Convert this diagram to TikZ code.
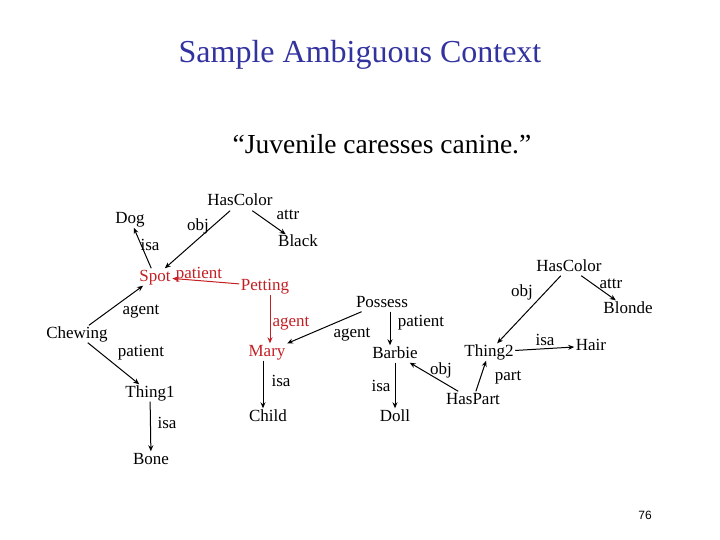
\documentclass[tikz,border=0pt]{standalone}
\usepackage{fontspec}
\setmainfont{Liberation Serif}
\newfontfamily\pagenumfont{Liberation Sans}
\usetikzlibrary{arrows.meta}
\definecolor{titleblue}{RGB}{51,51,160}
\definecolor{semred}{RGB}{195,30,35}
\tikzset{
  concept/.style={inner sep=1.5pt, text height=11pt, text depth=3pt, font=\fontsize{17}{19}\selectfont},
  rel/.style={inner sep=0pt, text height=11pt, text depth=3pt, font=\fontsize{17}{19}\selectfont},
  link/.style={line width=1pt, -{Stealth[length=6pt,width=5pt]}},
  redlink/.style={link, draw=semred},
}
\begin{document}
\begin{tikzpicture}[x=1pt,y=-1pt]
\useasboundingbox (0,0) rectangle (720,540);
% titles
\node (title) at (360,55) {\fontsize{32}{36}\selectfont\color{titleblue}Sample Ambiguous Context};
\node (sub) at (382,144) {\fontsize{27.5}{32}\selectfont “Juvenile caresses canine.”};
% left network nodes
\node[concept] (hc1) at (240,202) {HasColor};
\node[concept] (dog) at (130,219) {Dog};
\node[concept] (black) at (298,243) {Black};
\node[concept, text=semred] (spot) at (155,277) {Spot};
\node[concept, text=semred] (pet) at (265,286) {Petting};
\node[concept] (chew) at (77,334) {Chewing};
\node[concept, text=semred] (mary) at (267,352) {Mary};
\node[concept] (child) at (268,417) {Child};
\node[concept] (th1) at (150,393) {Thing1};
\node[concept] (bone) at (151,460) {Bone};
% right network nodes
\node[concept] (poss) at (382,303) {Possess};
\node[concept] (barbie) at (395,354) {Barbie};
\node[concept] (doll) at (395,417) {Doll};
\node[concept] (haspart) at (473,400) {HasPart};
\node[concept] (th2) at (489,352) {Thing2};
\node[concept] (hc2) at (569,267) {HasColor};
\node[concept] (blonde) at (628,309) {Blonde};
\node[concept] (hair) at (591,346) {Hair};
% relation labels
\node[rel] (l1) at (198,226) {obj};
\node[rel] (l2) at (288,216) {attr};
\node[rel] (l3) at (150,246) {isa};
\node[rel, text=semred] (l4) at (199,274) {patient};
\node[rel] (l5) at (141,310) {agent};
\node[rel] (l6) at (141,352) {patient};
\node[rel, text=semred] (l7) at (291,322) {agent};
\node[rel] (l8) at (281,382) {isa};
\node[rel] (l9) at (167,424) {isa};
\node[rel] (l10) at (421,322) {patient};
\node[rel] (l11) at (352,333) {agent};
\node[rel] (l12) at (381,387) {isa};
\node[rel] (l13) at (441,370) {obj};
\node[rel] (l14) at (508,376) {part};
\node[rel] (l15) at (522,292) {obj};
\node[rel] (l16) at (611,284) {attr};
\node[rel] (l17) at (545,341) {isa};
% connectors
\draw[link] (hc1) -- (spot);
\draw[link] (hc1) -- (black);
\draw[link] (spot) -- (dog);
\draw[redlink] (pet) -- (spot);
\draw[redlink] ([xshift=5pt]pet.south) -- ([xshift=3pt]mary.north);
\draw[link] (chew) -- (spot);
\draw[link] (chew) -- (th1);
\draw[link] (th1) -- (bone);
\draw[link] ([xshift=-4pt]mary.south) -- ([xshift=-5pt]child.north);
\draw[link] (poss) -- (mary);
\draw[link] ([xshift=8pt]poss.south) -- ([xshift=-5pt]barbie.north);
\draw[link] (barbie) -- (doll);
\draw[link] (haspart) -- (barbie);
\draw[link] (haspart) -- (th2);
\draw[link] (hc2) -- (th2);
\draw[link] (hc2) -- (blonde);
\draw[link] (th2) -- (hair);
% page number
\node (pnum) at (645,515) {\pagenumfont\fontsize{12}{14}\selectfont 76};
\end{tikzpicture}
\end{document}
